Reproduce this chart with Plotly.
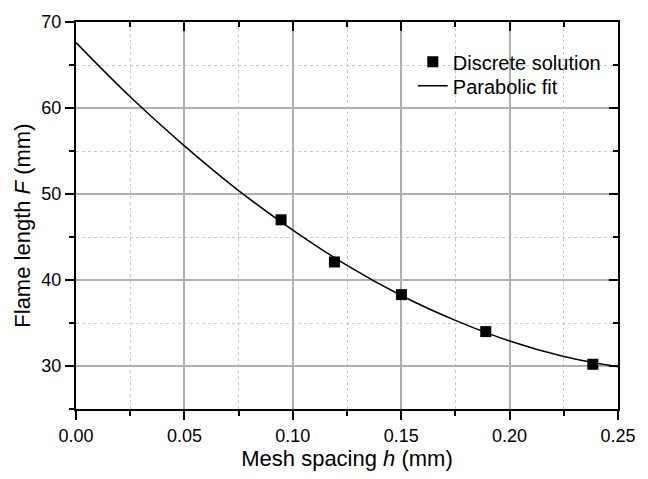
import plotly.graph_objects as go

# Discrete solution
mesh_h = [0.0946, 0.1192, 0.1501, 0.1890, 0.2384]
flame_F = [47.0, 42.1, 38.3, 34.0, 30.2]

# Parabolic fit curve samples
fit_h = [0.0, 0.025, 0.05, 0.075, 0.10, 0.125, 0.15, 0.175, 0.20, 0.225, 0.25]
fit_F = [67.6, 61.3, 55.6, 50.4, 45.8, 41.7, 38.2, 35.3, 32.9, 31.1, 29.9]

x_range = [0, 0.25]
y_range = [25, 70]

FONT = "Liberation Sans, Arial, sans-serif"

fig = go.Figure()
fig.add_trace(go.Scatter(
    x=fit_h, y=fit_F, mode="lines", name="Parabolic fit", legend="legend2",
    line=dict(color="black", width=1.5, shape="spline"),
))
fig.add_trace(go.Scatter(
    x=mesh_h, y=flame_F, mode="markers", name="Discrete solution", legend="legend",
    marker=dict(symbol="square", size=11, color="black"),
))
# invisible trace for mirrored axes
fig.add_trace(go.Scatter(x=[None], y=[None], xaxis="x2", yaxis="y2",
                         showlegend=False, hoverinfo="skip"))

grid_major = "#b0b0b0"
grid_minor = "#c8c8c8"

# white background behind the legend (hides grid lines)
fig.add_shape(type="rect", xref="paper", yref="paper",
              x0=(387 - 76) / 552, x1=(618 - 76) / 552,
              y0=(410 - 99) / 398, y1=(410 - 47) / 398,
              fillcolor="white", line=dict(width=0), layer="between")

fig.add_annotation(
    text="Flame length <i>F</i> (mm)", textangle=-90,
    xref="paper", yref="paper", x=(22 - 76) / 552, y=(410 - 221.5) / 398,
    xanchor="center", yanchor="middle", showarrow=False,
    font=dict(size=22, family=FONT, color="black"),
)

leg_common = dict(xanchor="left", yanchor="middle", bgcolor="rgba(0,0,0,0)",
                  borderwidth=0, font=dict(size=20, family=FONT, color="black"))

fig.update_layout(
    width=648, height=479,
    margin=dict(l=76, r=20, t=12, b=69),
    paper_bgcolor="white", plot_bgcolor="white",
    font=dict(family=FONT, color="black", size=18),
    showlegend=True,
    legend=dict(x=(419 - 76) / 552, y=(410 - 53) / 398, **leg_common),
    legend2=dict(x=(419 - 76) / 552, y=(410 - 77.5) / 398, **leg_common),
    xaxis=dict(
        range=x_range, dtick=0.05, tick0=0, tickformat=".2f",
        showline=True, linecolor="black", linewidth=2, mirror=True,
        ticks="outside", ticklen=9, tickwidth=2, tickcolor="black",
        showgrid=True, gridcolor=grid_major, gridwidth=1.5,
        zeroline=False,
        tickfont=dict(size=18),
        minor=dict(dtick=0.025, tick0=0, ticks="outside", ticklen=5, tickwidth=2,
                   tickcolor="black", showgrid=True, gridcolor=grid_minor,
                   griddash="3px,3px", gridwidth=1),
        title=dict(text="Mesh spacing <i>h</i> (mm)", font=dict(size=22), standoff=6),
    ),
    yaxis=dict(
        range=y_range, dtick=10, tick0=0,
        showline=True, linecolor="black", linewidth=2, mirror=True,
        ticks="outside", ticklen=9, tickwidth=2, tickcolor="black",
        showgrid=True, gridcolor=grid_major, gridwidth=1.5,
        zeroline=False,
        tickfont=dict(size=18),
        minor=dict(dtick=5, tick0=0, ticks="outside", ticklen=5, tickwidth=2,
                   tickcolor="black", showgrid=True, gridcolor=grid_minor,
                   griddash="3px,3px", gridwidth=1),
    ),
    xaxis2=dict(
        range=x_range, dtick=0.05, tick0=0, overlaying="x", side="top",
        anchor="y2", showticklabels=False, showgrid=False, zeroline=False,
        ticks="inside", ticklen=9, tickwidth=2, tickcolor="black",
        minor=dict(dtick=0.025, tick0=0, ticks="inside", ticklen=5, tickwidth=2,
                   tickcolor="black", showgrid=False),
    ),
    yaxis2=dict(
        range=y_range, dtick=10, tick0=0, overlaying="y", side="right",
        anchor="x2", showticklabels=False, showgrid=False, zeroline=False,
        ticks="inside", ticklen=9, tickwidth=2, tickcolor="black",
        minor=dict(dtick=5, tick0=0, ticks="inside", ticklen=5, tickwidth=2,
                   tickcolor="black", showgrid=False),
    ),
)

fig.write_html("out.html")
